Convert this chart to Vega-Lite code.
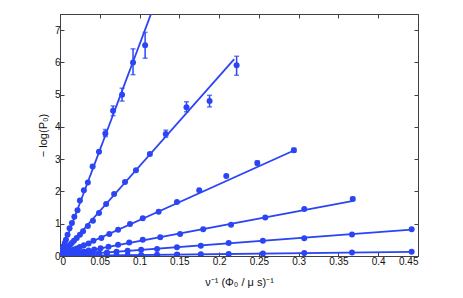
{
  "$schema": "https://vega.github.io/schema/vega-lite/v6.json",
  "autosize": {"type": "none"},
  "padding": {"left": 60, "top": 14, "right": 45, "bottom": 42},
  "width": 358,
  "height": 242,
  "background": "white",
  "config": {
    "view": {"stroke": "#404040", "strokeWidth": 1},
    "font": "Liberation Sans",
    "axis": {
      "grid": false,
      "domainColor": "#404040",
      "tickColor": "#404040",
      "tickSize": -4,
      "labelFont": "Liberation Sans",
      "labelFontSize": 10,
      "labelColor": "#111",
      "titleFont": "Liberation Sans",
      "titleFontSize": 11,
      "titleFontWeight": "normal",
      "titleColor": "#111"
    }
  },
  "datasets": {
    "pts": [
      {"s": 1, "x": 0.107, "y": 6.53}, {"s": 1, "x": 0.0918, "y": 6.0}, {"s": 1, "x": 0.078, "y": 5.0},
      {"s": 1, "x": 0.0667, "y": 4.5}, {"s": 1, "x": 0.057, "y": 3.8}, {"s": 1, "x": 0.049, "y": 3.23},
      {"s": 1, "x": 0.041, "y": 2.77}, {"s": 1, "x": 0.035, "y": 2.28}, {"s": 1, "x": 0.030, "y": 2.04},
      {"s": 1, "x": 0.025, "y": 1.72}, {"s": 1, "x": 0.022, "y": 1.42}, {"s": 1, "x": 0.018, "y": 1.22},
      {"s": 1, "x": 0.015, "y": 1.02}, {"s": 1, "x": 0.012, "y": 0.86}, {"s": 1, "x": 0.0095, "y": 0.66},
      {"s": 1, "x": 0.0075, "y": 0.5}, {"s": 1, "x": 0.006, "y": 0.4}, {"s": 1, "x": 0.0045, "y": 0.3},
      {"s": 1, "x": 0.0033, "y": 0.22}, {"s": 1, "x": 0.0022, "y": 0.15},
      {"s": 2, "x": 0.222, "y": 5.91}, {"s": 2, "x": 0.188, "y": 4.80}, {"s": 2, "x": 0.159, "y": 4.61},
      {"s": 2, "x": 0.133, "y": 3.78}, {"s": 2, "x": 0.113, "y": 3.16}, {"s": 2, "x": 0.0955, "y": 2.66},
      {"s": 2, "x": 0.0817, "y": 2.29}, {"s": 2, "x": 0.068, "y": 1.92}, {"s": 2, "x": 0.058, "y": 1.61},
      {"s": 2, "x": 0.049, "y": 1.33}, {"s": 2, "x": 0.0414, "y": 1.09}, {"s": 2, "x": 0.035, "y": 0.93},
      {"s": 2, "x": 0.029, "y": 0.77}, {"s": 2, "x": 0.025, "y": 0.66}, {"s": 2, "x": 0.021, "y": 0.56},
      {"s": 2, "x": 0.0175, "y": 0.47}, {"s": 2, "x": 0.0148, "y": 0.4}, {"s": 2, "x": 0.0125, "y": 0.34},
      {"s": 2, "x": 0.0105, "y": 0.28}, {"s": 2, "x": 0.0088, "y": 0.24}, {"s": 2, "x": 0.0074, "y": 0.2},
      {"s": 2, "x": 0.0062, "y": 0.17}, {"s": 2, "x": 0.005, "y": 0.14}, {"s": 2, "x": 0.004, "y": 0.11},
      {"s": 3, "x": 0.294, "y": 3.28}, {"s": 3, "x": 0.248, "y": 2.88}, {"s": 3, "x": 0.209, "y": 2.48},
      {"s": 3, "x": 0.175, "y": 2.04}, {"s": 3, "x": 0.147, "y": 1.67}, {"s": 3, "x": 0.124, "y": 1.37},
      {"s": 3, "x": 0.104, "y": 1.17}, {"s": 3, "x": 0.088, "y": 0.99}, {"s": 3, "x": 0.073, "y": 0.81},
      {"s": 3, "x": 0.062, "y": 0.68}, {"s": 3, "x": 0.052, "y": 0.56}, {"s": 3, "x": 0.042, "y": 0.47},
      {"s": 3, "x": 0.036, "y": 0.39}, {"s": 3, "x": 0.030, "y": 0.33}, {"s": 3, "x": 0.025, "y": 0.28},
      {"s": 3, "x": 0.021, "y": 0.23}, {"s": 3, "x": 0.0175, "y": 0.2}, {"s": 3, "x": 0.0147, "y": 0.16},
      {"s": 3, "x": 0.0123, "y": 0.14}, {"s": 3, "x": 0.0103, "y": 0.115}, {"s": 3, "x": 0.0087, "y": 0.1},
      {"s": 3, "x": 0.0073, "y": 0.08}, {"s": 3, "x": 0.006, "y": 0.07},
      {"s": 4, "x": 0.368, "y": 1.77}, {"s": 4, "x": 0.307, "y": 1.46}, {"s": 4, "x": 0.258, "y": 1.19},
      {"s": 4, "x": 0.215, "y": 0.97}, {"s": 4, "x": 0.180, "y": 0.83}, {"s": 4, "x": 0.151, "y": 0.68},
      {"s": 4, "x": 0.126, "y": 0.58}, {"s": 4, "x": 0.104, "y": 0.5}, {"s": 4, "x": 0.087, "y": 0.42},
      {"s": 4, "x": 0.073, "y": 0.35}, {"s": 4, "x": 0.061, "y": 0.29}, {"s": 4, "x": 0.051, "y": 0.24},
      {"s": 4, "x": 0.043, "y": 0.2}, {"s": 4, "x": 0.036, "y": 0.17}, {"s": 4, "x": 0.030, "y": 0.14},
      {"s": 4, "x": 0.025, "y": 0.12}, {"s": 4, "x": 0.021, "y": 0.1}, {"s": 4, "x": 0.0175, "y": 0.085},
      {"s": 4, "x": 0.0146, "y": 0.07}, {"s": 4, "x": 0.0122, "y": 0.058}, {"s": 4, "x": 0.0102, "y": 0.048},
      {"s": 5, "x": 0.442, "y": 0.83}, {"s": 5, "x": 0.367, "y": 0.67}, {"s": 5, "x": 0.307, "y": 0.55},
      {"s": 5, "x": 0.255, "y": 0.47}, {"s": 5, "x": 0.212, "y": 0.40}, {"s": 5, "x": 0.177, "y": 0.32},
      {"s": 5, "x": 0.147, "y": 0.27}, {"s": 5, "x": 0.122, "y": 0.22}, {"s": 5, "x": 0.102, "y": 0.19},
      {"s": 5, "x": 0.085, "y": 0.16}, {"s": 5, "x": 0.071, "y": 0.13}, {"s": 5, "x": 0.059, "y": 0.11},
      {"s": 5, "x": 0.049, "y": 0.09}, {"s": 5, "x": 0.041, "y": 0.077}, {"s": 5, "x": 0.034, "y": 0.064},
      {"s": 5, "x": 0.028, "y": 0.053}, {"s": 5, "x": 0.024, "y": 0.045}, {"s": 5, "x": 0.020, "y": 0.037},
      {"s": 5, "x": 0.0164, "y": 0.031},
      {"s": 6, "x": 0.442, "y": 0.13}, {"s": 6, "x": 0.367, "y": 0.105}, {"s": 6, "x": 0.307, "y": 0.09},
      {"s": 6, "x": 0.255, "y": 0.075}, {"s": 6, "x": 0.212, "y": 0.062}, {"s": 6, "x": 0.177, "y": 0.052},
      {"s": 6, "x": 0.147, "y": 0.043}, {"s": 6, "x": 0.122, "y": 0.036}, {"s": 6, "x": 0.102, "y": 0.03},
      {"s": 6, "x": 0.085, "y": 0.025}, {"s": 6, "x": 0.071, "y": 0.021}, {"s": 6, "x": 0.059, "y": 0.017},
      {"s": 6, "x": 0.049, "y": 0.014}, {"s": 6, "x": 0.041, "y": 0.012}, {"s": 6, "x": 0.034, "y": 0.01},
      {"s": 6, "x": 0.028, "y": 0.008}, {"s": 6, "x": 0.024, "y": 0.007}, {"s": 6, "x": 0.020, "y": 0.006},
      {"s": 6, "x": 0.0164, "y": 0.005}
    ],
    "errs": [
      {"s": 1, "x": 0.107, "lo": 6.13, "hi": 6.93}, {"s": 1, "x": 0.0918, "lo": 5.62, "hi": 6.42},
      {"s": 1, "x": 0.078, "lo": 4.8, "hi": 5.2}, {"s": 1, "x": 0.0667, "lo": 4.35, "hi": 4.65},
      {"s": 1, "x": 0.057, "lo": 3.7, "hi": 3.92},
      {"s": 2, "x": 0.222, "lo": 5.6, "hi": 6.19}, {"s": 2, "x": 0.188, "lo": 4.62, "hi": 4.98},
      {"s": 2, "x": 0.159, "lo": 4.47, "hi": 4.78}, {"s": 2, "x": 0.133, "lo": 3.68, "hi": 3.9},
      {"s": 3, "x": 0.294, "lo": 3.22, "hi": 3.34}, {"s": 3, "x": 0.248, "lo": 2.82, "hi": 2.94},
      {"s": 4, "x": 0.368, "lo": 1.72, "hi": 1.82}
    ],
    "fits": [
      {"s": 1, "x": 0, "y": 0}, {"s": 1, "x": 0.12, "y": 7.87},
      {"s": 2, "x": 0, "y": 0}, {"s": 2, "x": 0.219, "y": 6.1},
      {"s": 3, "x": 0, "y": 0}, {"s": 3, "x": 0.294, "y": 3.27},
      {"s": 4, "x": 0, "y": 0}, {"s": 4, "x": 0.367, "y": 1.7},
      {"s": 5, "x": 0, "y": 0}, {"s": 5, "x": 0.442, "y": 0.82},
      {"s": 6, "x": 0, "y": 0}, {"s": 6, "x": 0.442, "y": 0.125}
    ]
  },
  "resolve": {"axis": {"x": "independent", "y": "independent"}},
  "layer": [
    {
      "data": {"name": "fits"},
      "mark": {"type": "line", "color": "#2b45f5", "strokeWidth": 1.8, "clip": true},
      "encoding": {
        "x": {"field": "x", "type": "quantitative",
              "scale": {"domain": [0, 0.45], "nice": false, "zero": false},
              "axis": {"values": [0, 0.05, 0.1, 0.15, 0.2, 0.25, 0.3, 0.35, 0.4, 0.45], "format": "~g",
                       "labelPadding": 4, "title": "ν⁻¹ (Φ₀ / μ s)⁻¹", "titlePadding": 10}},
        "y": {"field": "y", "type": "quantitative",
              "scale": {"domain": [0, 7.5], "nice": false, "zero": false},
              "axis": {"values": [0, 1, 2, 3, 4, 5, 6, 7], "labelPadding": 4,
                       "title": "− log(P₀)", "titlePadding": 6}},
        "detail": {"field": "s"}
      }
    },
    {
      "data": {"name": "errs"},
      "mark": {"type": "rule", "color": "#2b45f5", "strokeWidth": 1.5},
      "encoding": {
        "x": {"field": "x", "type": "quantitative", "scale": {"domain": [0, 0.45], "nice": false, "zero": false},
              "axis": {"orient": "top", "values": [0, 0.05, 0.1, 0.15, 0.2, 0.25, 0.3, 0.35, 0.4, 0.45], "labels": false, "title": null}},
        "y": {"field": "lo", "type": "quantitative", "scale": {"domain": [0, 7.5], "nice": false, "zero": false},
              "axis": {"orient": "right", "values": [0, 1, 2, 3, 4, 5, 6, 7], "labels": false, "title": null}},
        "y2": {"field": "hi"}
      }
    },
    {
      "data": {"name": "errs"},
      "mark": {"type": "tick", "color": "#2b45f5", "orient": "horizontal", "size": 5, "thickness": 1.5},
      "encoding": {
        "x": {"field": "x", "type": "quantitative", "axis": null},
        "y": {"field": "lo", "type": "quantitative", "axis": null}
      }
    },
    {
      "data": {"name": "errs"},
      "mark": {"type": "tick", "color": "#2b45f5", "orient": "horizontal", "size": 5, "thickness": 1.5},
      "encoding": {
        "x": {"field": "x", "type": "quantitative", "axis": null},
        "y": {"field": "hi", "type": "quantitative", "axis": null}
      }
    },
    {
      "data": {"name": "pts"},
      "mark": {"type": "point", "shape": "circle", "filled": true, "color": "#2b45f5", "size": 36, "opacity": 1, "clip": true},
      "encoding": {
        "x": {"field": "x", "type": "quantitative", "axis": null},
        "y": {"field": "y", "type": "quantitative", "axis": null}
      }
    }
  ]
}
